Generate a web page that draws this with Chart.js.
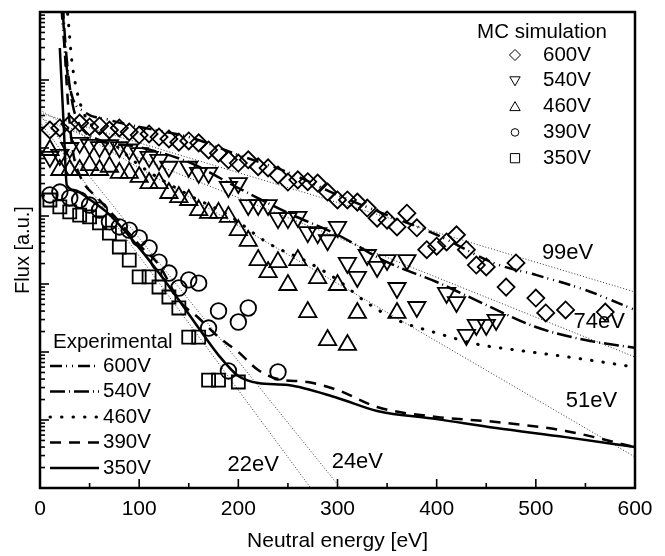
<!DOCTYPE html>
<html><head><meta charset="utf-8">
<script src="https://cdn.jsdelivr.net/npm/chart.js@4/dist/chart.umd.min.js"></script>
<style>html,body{margin:0;padding:0;background:#fff}canvas{display:block}</style>
</head><body>
<canvas id="c" width="665" height="556"></canvas>
<script>
// ---------------- DATA (energy [eV], flux [a.u.]) ----------------
// MC simulation points
const mc600V = [[10,1.84e5],[20,1.97e5],[30,2.25e5],[40,2.33e5],[50,2.04e5],[60,2.11e5],[70,1.84e5],[80,1.97e5],[90,1.72e5],[100,1.55e5],[110,1.61e5],[120,1.45e5],[130,1.36e5],[140,1.22e5],[150,1.27e5],[160,1.19e5],[170,9.35e4],[180,8.4e4],[190,6.7e4],[200,6.0e4],[210,6.7e4],[220,5.3e4],[230,5.1e4],[240,4.0e4],[250,3.16e4],[260,3.4e4],[270,3.2e4],[280,3.05e4],[290,2.25e4],[300,1.72e4],[310,1.72e4],[320,1.6e4],[330,1.31e4],[340,9.3e3],[350,8.7e3],[360,6.9e3],[370,1.1e4],[380,6.7e3],[390,3.2e3],[400,3.6e3],[410,4.15e3],[420,5.3e3],[430,3.2e3],[440,1.9e3],[450,1.78e3],[470,900],[480,2.04e3],[500,622],[510,375],[530,415],[570,387]];
const mc540V = [[10,7.4e4],[20,7.9e4],[30,1.0e5],[40,1.19e5],[50,1.11e5],[60,1.03e5],[70,1.1e5],[80,1.03e5],[90,9.5e4],[100,8.4e4],[110,7.4e4],[120,6.7e4],[130,5.3e4],[150,5.3e4],[160,4.3e4],[170,4.3e4],[190,2.67e4],[200,3.05e4],[210,1.45e4],[220,1.45e4],[230,1.45e4],[240,9.3e3],[250,9.3e3],[260,9.7e3],[270,5.8e3],[280,5.6e3],[290,4.4e3],[300,6.9e3],[310,2.04e3],[320,1.27e3],[330,2.67e3],[340,1.78e3],[350,2.25e3],[360,873],[370,2.25e3],[380,459],[410,738],[420,543],[430,178],[440,250],[450,250],[460,296]];
const mc460V = [[10,9.35e4],[20,4.75e4],[30,4.75e4],[40,4.75e4],[50,5.6e4],[60,4.75e4],[70,5.3e4],[80,4.3e4],[90,4.3e4],[100,3.75e4],[110,3.05e4],[120,3.05e4],[130,2.18e4],[140,1.9e4],[150,1.72e4],[160,1.22e4],[170,1.11e4],[180,1.11e4],[190,9.7e3],[200,6.2e3],[210,4.3e3],[220,2.25e3],[230,1.5e3],[240,2.1e3],[250,967],[260,2.25e3],[270,387],[280,1.22e3],[290,150],[300,967],[310,127],[320,375],[360,375]];
const mc390V = [[10,2.04e4],[20,2.25e4],[30,1.84e4],[40,1.72e4],[50,1.45e4],[60,1.22e4],[70,8.2e3],[80,6.9e3],[90,6.2e3],[100,4.75e3],[110,3.4e3],[120,2.1e3],[130,1.45e3],[140,873],[150,1.15e3],[160,1.03e3],[170,225],[180,401],[190,52.6],[200,276],[210,444],[240,50.8]];
const mc350V = [[10,1.72e4],[20,1.36e4],[30,1.15e4],[40,1.03e4],[50,9.7e3],[60,7.9e3],[70,5.6e3],[80,3.5e3],[90,2.25e3],[100,1.27e3],[110,1.27e3],[120,903],[130,644],[140,444],[150,166],[160,166],[170,38.7],[180,38.7],[200,36.2]];

// Experimental curves
const exp600V = [[20,3e7],[22,1e7],[26,1.97e6],[32,6.0e5],[45,3.4e5],[70,2.58e5],[100,2.04e5],[150,1.45e5],[200,7.9e4],[250,4.4e4],[300,2.04e4],[350,1.03e4],[400,5.3e3],[460,1.97e3],[500,1.36e3],[550,816],[600,415]];
const exp540V = [[22,3e7],[24,7.6e6],[28,1.4e6],[33,4.3e5],[40,2.18e5],[60,1.31e5],[100,1.03e5],[150,6.2e4],[200,2.58e4],[250,1.11e4],[300,5.3e3],[350,2.1e3],[400,1.07e3],[450,491],[500,233],[550,150],[600,115]];
const exp460V = [[24,3e7],[28,9.0e6],[32,1.97e6],[37,7.1e5],[45,3.05e5],[55,1.97e5],[70,1.31e5],[100,5.6e4],[150,2.04e4],[190,1.03e4],[230,4.0e3],[270,2.1e3],[300,1.15e3],[330,526],[360,296],[400,190],[440,131],[480,107],[540,81.6],[600,60]];
const exp390V = [[22,3e7],[24,5.4e6],[28,5.1e5],[33,9.35e4],[40,4.0e4],[60,1.72e4],[80,8.2e3],[100,3.75e3],[120,1.9e3],[140,582],[160,316],[180,166],[200,100],[220,54.3],[240,40],[270,36.2],[300,27.6],[340,15.5],[400,11.1],[460,9.35],[530,6.9],[600,4.0]];
const exp350V = [[20,2.95e6],[24,2.0e5],[27,2.86e4],[35,2.4e4],[50,1.75e4],[70,1.05e4],[100,3.4e3],[120,1.45e3],[140,582],[160,225],[180,90],[200,44.4],[220,35],[250,32.7],[300,21.1],[340,13.6],[400,10.3],[460,7.6],[530,5.6],[600,4.0]];

// Exponential fits (end points)
const fit99eV = [[0,3.27e5],[600,763]];
const fit74eV = [[0,2.76e5],[600,84.4]];
const fit51eV = [[0,3.62e5],[600,2.86]];
const fit22eV = [[0,2.41e5],[273,1]];
const fit24eV = [[0,3.06e5],[303,1]];

const seriesLabels = ['600V','540V','460V','390V','350V'];
const fitLabels = ['99eV','74eV','51eV','22eV','24eV'];
const legendTitles = ['MC simulation','Experimental'];

// ---------------- CHART ----------------
const FONT = "'Liberation Sans', Arial, Helvetica, sans-serif";
const xy = a => a.map(p => ({x: p[0], y: p[1]}));

const mcStyles = [
  {pointStyle:'rectRot', r:8.5, rot:0},
  {pointStyle:'triangle', r:10, rot:180},
  {pointStyle:'triangle', r:10, rot:0},
  {pointStyle:'circle', r:7.8, rot:0},
  {pointStyle:'rect', r:9.2, rot:0}
];
const expDashes = [[12,4,1,5,1,5],[15,4,1,4],[0.5,11],[11,8],[]];
const mcData = [mc600V, mc540V, mc460V, mc390V, mc350V];
const expData = [exp600V, exp540V, exp460V, exp390V, exp350V];
const fitData = [fit99eV, fit74eV, fit51eV, fit22eV, fit24eV];

const datasets = [];
mcData.forEach((d, i) => datasets.push({
  label: seriesLabels[i], group: 'mc', data: xy(d), showLine: false,
  pointStyle: mcStyles[i].pointStyle, pointRadius: mcStyles[i].r, pointRotation: mcStyles[i].rot,
  pointBorderWidth: 1.8, borderColor: '#000', backgroundColor: 'rgba(0,0,0,0)',
  pointBorderColor: '#000', pointBackgroundColor: 'rgba(0,0,0,0)'
}));
expData.forEach((d, i) => datasets.push({
  label: seriesLabels[i], group: 'exp', data: xy(d), showLine: true, pointRadius: 0,
  borderColor: '#000', borderWidth: i === 2 ? 3 : 2.5, borderDash: expDashes[i],
  borderCapStyle: i === 2 ? 'round' : 'butt', cubicInterpolationMode: 'monotone', fill: false
}));
fitData.forEach((d, i) => datasets.push({
  label: fitLabels[i], group: 'fit', data: xy(d), showLine: true, pointRadius: 0,
  borderColor: '#333', borderWidth: 1, borderDash: [1,2], fill: false
}));

// annotation anchors for fit labels, in data space (eV, flux)
const fitLabelAnchors = [[532,2.86e3],[564,276],[556,19],[215,2.18],[320,2.41]];

function drawMarker(ctx, style, x, y, r, rot) {
  ctx.beginPath();
  if (style === 'rectRot') {
    ctx.moveTo(x - r, y); ctx.lineTo(x, y - r); ctx.lineTo(x + r, y); ctx.lineTo(x, y + r); ctx.closePath();
  } else if (style === 'triangle') {
    const s = rot === 180 ? -1 : 1;
    ctx.moveTo(x, y - s * r); ctx.lineTo(x + 0.866 * r, y + s * 0.5 * r); ctx.lineTo(x - 0.866 * r, y + s * 0.5 * r); ctx.closePath();
  } else if (style === 'circle') {
    ctx.arc(x, y, r, 0, Math.PI * 2);
  } else {
    const h = r * Math.SQRT1_2; ctx.rect(x - h, y - h, 2 * h, 2 * h);
  }
  ctx.stroke();
}

const decor = {
  id: 'decor',
  beforeDraw(chart) {
    const ctx = chart.ctx; ctx.save(); ctx.fillStyle = '#fff'; ctx.fillRect(0, 0, chart.width, chart.height); ctx.restore();
  },
  afterDraw(chart) {
    const {ctx, chartArea: a, scales: {x, y}} = chart;
    ctx.save();
    ctx.strokeStyle = '#000';
    ctx.lineWidth = 1.6;
    // inward ticks on x axis
    for (let v = x.min; v <= x.max; v += 50) {
      const px = x.getPixelForValue(v);
      const len = v % 100 === 0 ? 9 : 5;
      ctx.beginPath(); ctx.moveTo(px, a.bottom); ctx.lineTo(px, a.bottom - len); ctx.stroke();
    }
    // inward ticks on log y axis
    for (let k = 0; k < 7; k++) {
      for (let m = 1; m <= 9; m++) {
        const py = y.getPixelForValue(m * Math.pow(10, k));
        const len = m === 1 ? 9 : 5;
        ctx.beginPath(); ctx.moveTo(a.left, py); ctx.lineTo(a.left + len, py); ctx.stroke();
      }
    }
    // frame
    ctx.lineWidth = 2.5;
    ctx.strokeRect(a.left, a.top, a.right - a.left, a.bottom - a.top);

    ctx.fillStyle = '#000';
    ctx.textBaseline = 'middle';
    // fit labels
    ctx.font = '22px ' + FONT;
    ctx.textAlign = 'center';
    chart.data.datasets.filter(d => d.group === 'fit').forEach((d, i) => {
      const [ex, fy] = fitLabelAnchors[i];
      ctx.fillText(d.label, x.getPixelForValue(ex), y.getPixelForValue(fy));
    });

    // MC legend (top right)
    ctx.font = '20.5px ' + FONT;
    ctx.textAlign = 'center';
    ctx.fillText(legendTitles[0], 542, 32);
    ctx.textAlign = 'left';
    chart.data.datasets.filter(d => d.group === 'mc').forEach((d, i) => {
      const cy = 55 + i * 25.8;
      ctx.lineWidth = 1;
      const small = {rectRot:5.5, triangle:6, circle:3.8, rect:6.5}[d.pointStyle];
      drawMarker(ctx, d.pointStyle, 515, cy + (d.pointStyle === 'triangle' ? (d.pointRotation === 180 ? -1 : 1) : 0), small, d.pointRotation);
      ctx.fillText(d.label, 543, cy);
    });

    // Experimental legend (bottom left)
    ctx.textAlign = 'left';
    ctx.fillText(legendTitles[1], 53, 342);
    chart.data.datasets.filter(d => d.group === 'exp').forEach((d, i) => {
      const cy = 366 + i * 25.5;
      ctx.save();
      ctx.lineWidth = d.borderWidth; ctx.setLineDash(d.borderDash); ctx.lineCap = d.borderCapStyle;
      ctx.beginPath(); ctx.moveTo(50, cy); ctx.lineTo(99, cy); ctx.stroke();
      ctx.restore();
      ctx.fillText(d.label, 103, cy);
    });
    ctx.restore();
  }
};

new Chart(document.getElementById('c'), {
  type: 'scatter',
  data: {datasets},
  options: {
    responsive: false, animation: false,
    layout: {padding: {left: 0, right: 30, top: 12, bottom: 0}},
    plugins: {legend: {display: false}, tooltip: {enabled: false}},
    scales: {
      x: {
        type: 'linear', min: 0, max: 600,
        ticks: {stepSize: 100, color: '#000', font: {family: FONT, size: 21}, padding: 9, maxRotation: 0},
        grid: {display: false, drawTicks: false}, border: {display: false},
        title: {display: true, text: 'Neutral energy [eV]', color: '#000', font: {family: FONT, size: 21}, padding: {top: 0, bottom: 2}},
        afterFit: s => { s.height = 68; }
      },
      y: {
        type: 'logarithmic', min: 1, max: 1e7,
        ticks: {display: false},
        grid: {display: false, drawTicks: false}, border: {display: false},
        title: {display: true, text: 'Flux [a.u.]', color: '#000', font: {family: FONT, size: 20}, padding: {top: 11, bottom: 0}},
        afterFit: s => { s.width = 40; }
      }
    }
  },
  plugins: [decor]
});
</script>
</body></html>
